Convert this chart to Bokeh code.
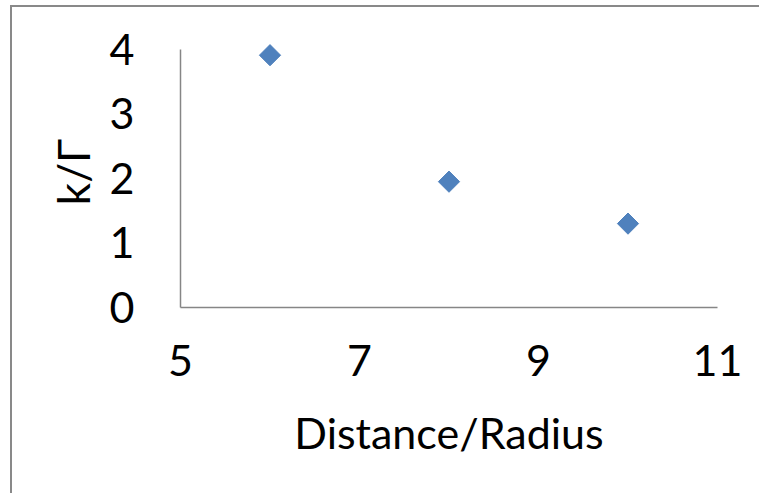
import math
from bokeh.plotting import figure
from bokeh.models import FixedTicker, Range1d
from bokeh.embed import file_html
from bokeh.resources import INLINE

# data
x_vals = [6, 8, 10]
y_vals = [3.91, 1.95, 1.30]
x_ticks = [5, 7, 9, 11]
y_ticks = [0, 1, 2, 3, 4]
x_title = "Distance/Radius"
y_title = "k/Γ"

FONT = "Lato"
W, H = 749, 488

p = figure(width=W, height=H, output_backend="svg", toolbar_location=None,
           x_range=Range1d(5, 11), y_range=Range1d(0, 4.2),
           min_border_left=168, min_border_top=29,
           min_border_right=W - 705, min_border_bottom=H - 300)
p.styles = {"border-left": "2px solid #898989", "border-top": "2px solid #898989",
            "margin-left": "10px", "margin-top": "5px"}
p.outline_line_color = None
p.xgrid.grid_line_color = None
p.ygrid.grid_line_color = None
p.background_fill_color = "white"
p.border_fill_color = "white"

for ax in (p.xaxis[0], p.yaxis[0]):
    ax.axis_line_color = "#868686"
    ax.axis_line_width = 1.5
    ax.major_tick_line_color = None
    ax.minor_tick_line_color = None
    ax.major_label_text_font = FONT
    ax.major_label_text_font_size = "43px"
    ax.major_label_text_color = "black"
    ax.axis_label_text_font = FONT
    ax.axis_label_text_font_style = "normal"
    ax.axis_label_text_color = "black"

p.xaxis.ticker = FixedTicker(ticks=x_ticks)
p.yaxis.ticker = FixedTicker(ticks=y_ticks)
p.yaxis.bounds = (y_ticks[0], y_ticks[-1])
p.xaxis.major_label_standoff = 31
p.yaxis.major_label_standoff = 40
p.xaxis.axis_label = x_title
p.xaxis.axis_label_text_font_size = "43px"
p.xaxis.axis_label_standoff = 28
p.yaxis.axis_label = y_title
p.yaxis.axis_label_text_font_size = "44px"
p.yaxis.axis_label_standoff = 8

p.scatter(x_vals, y_vals, marker="square", size=15, angle=math.pi / 4,
          fill_color="#4F81BD", line_color="#4F81BD")

open("out.html", "w").write(file_html(p, INLINE))
